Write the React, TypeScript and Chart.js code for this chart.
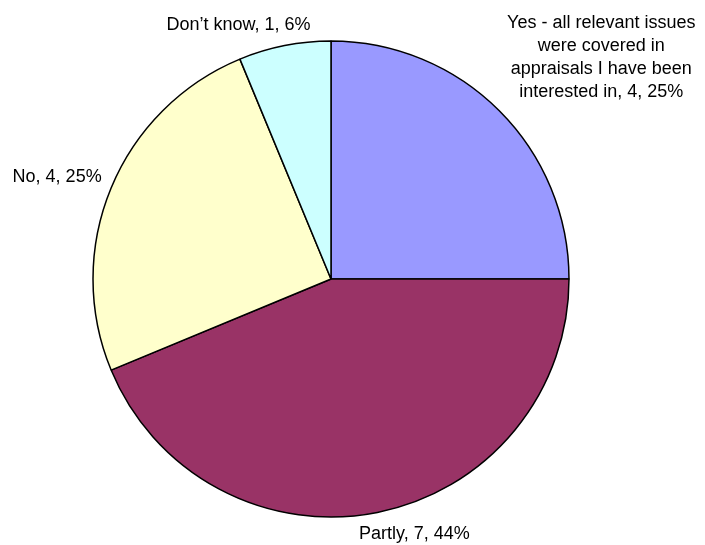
import React, { useEffect, useRef } from "react";
import { Chart, registerables } from "chart.js";

Chart.register(...registerables);

const categories = [
  "Yes - all relevant issues were covered in appraisals I have been interested in",
  "Partly",
  "No",
  "Don’t know",
];
const counts = [4, 7, 4, 1];
const percents = [25, 44, 25, 6];
const labelLines = [
  ["Yes - all relevant issues", "were covered in", "appraisals I have been", "interested in, 4, 25%"],
  ["Partly, 7, 44%"],
  ["No, 4, 25%"],
  ["Don’t know, 1, 6%"],
];
const colors = ["#9999FF", "#993366", "#FFFFCC", "#CCFFFF"];
// label offsets relative to each slice's outer mid-point (first baseline)
const labelOffsets = [
  [102, -83],
  [37, 27],
  [-54, -6],
  [-46, -16],
];

const labelPlugin = {
  id: "sliceLabels",
  afterDatasetsDraw(chart: any) {
    const ctx = chart.ctx;
    const meta = chart.getDatasetMeta(0);
    ctx.save();
    ctx.font = '18px "Liberation Sans", Arial, sans-serif';
    ctx.fillStyle = "#000";
    ctx.textAlign = "center";
    ctx.textBaseline = "alphabetic";
    meta.data.forEach((arc: any, i: number) => {
      const { x, y, startAngle, endAngle, outerRadius } = arc.getProps(
        ["x", "y", "startAngle", "endAngle", "outerRadius"],
        true
      );
      const mid = (startAngle + endAngle) / 2;
      const px = x + Math.cos(mid) * outerRadius + labelOffsets[i][0];
      const py = y + Math.sin(mid) * outerRadius + labelOffsets[i][1];
      labelLines[i].forEach((line, j) => {
        ctx.fillText(line, px, py + j * 23);
      });
    });
    ctx.restore();
  },
};

export default function App() {
  const ref = useRef<HTMLCanvasElement>(null);
  useEffect(() => {
    if (!ref.current) return;
    const chart = new Chart(ref.current, {
      type: "pie",
      data: {
        labels: categories,
        datasets: [
          {
            data: counts,
            backgroundColor: colors,
            borderColor: "#000000",
            borderWidth: 1.5,
            borderAlign: "center",
          } as any,
        ],
      },
      options: {
        responsive: false,
        animation: false,
        radius: 238,
        layout: { padding: { left: 0, right: 43, top: 13, bottom: 0 } },
        plugins: {
          legend: { display: false },
          tooltip: { enabled: false },
        },
      } as any,
      plugins: [labelPlugin],
    });
    return () => chart.destroy();
  }, []);
  return (
    <div style={{ position: "fixed", left: 0, top: 0, width: 705, height: 545, background: "#fff" }}>
      <canvas ref={ref} width={705} height={545} style={{ width: 705, height: 545 }} />
    </div>
  );
}
